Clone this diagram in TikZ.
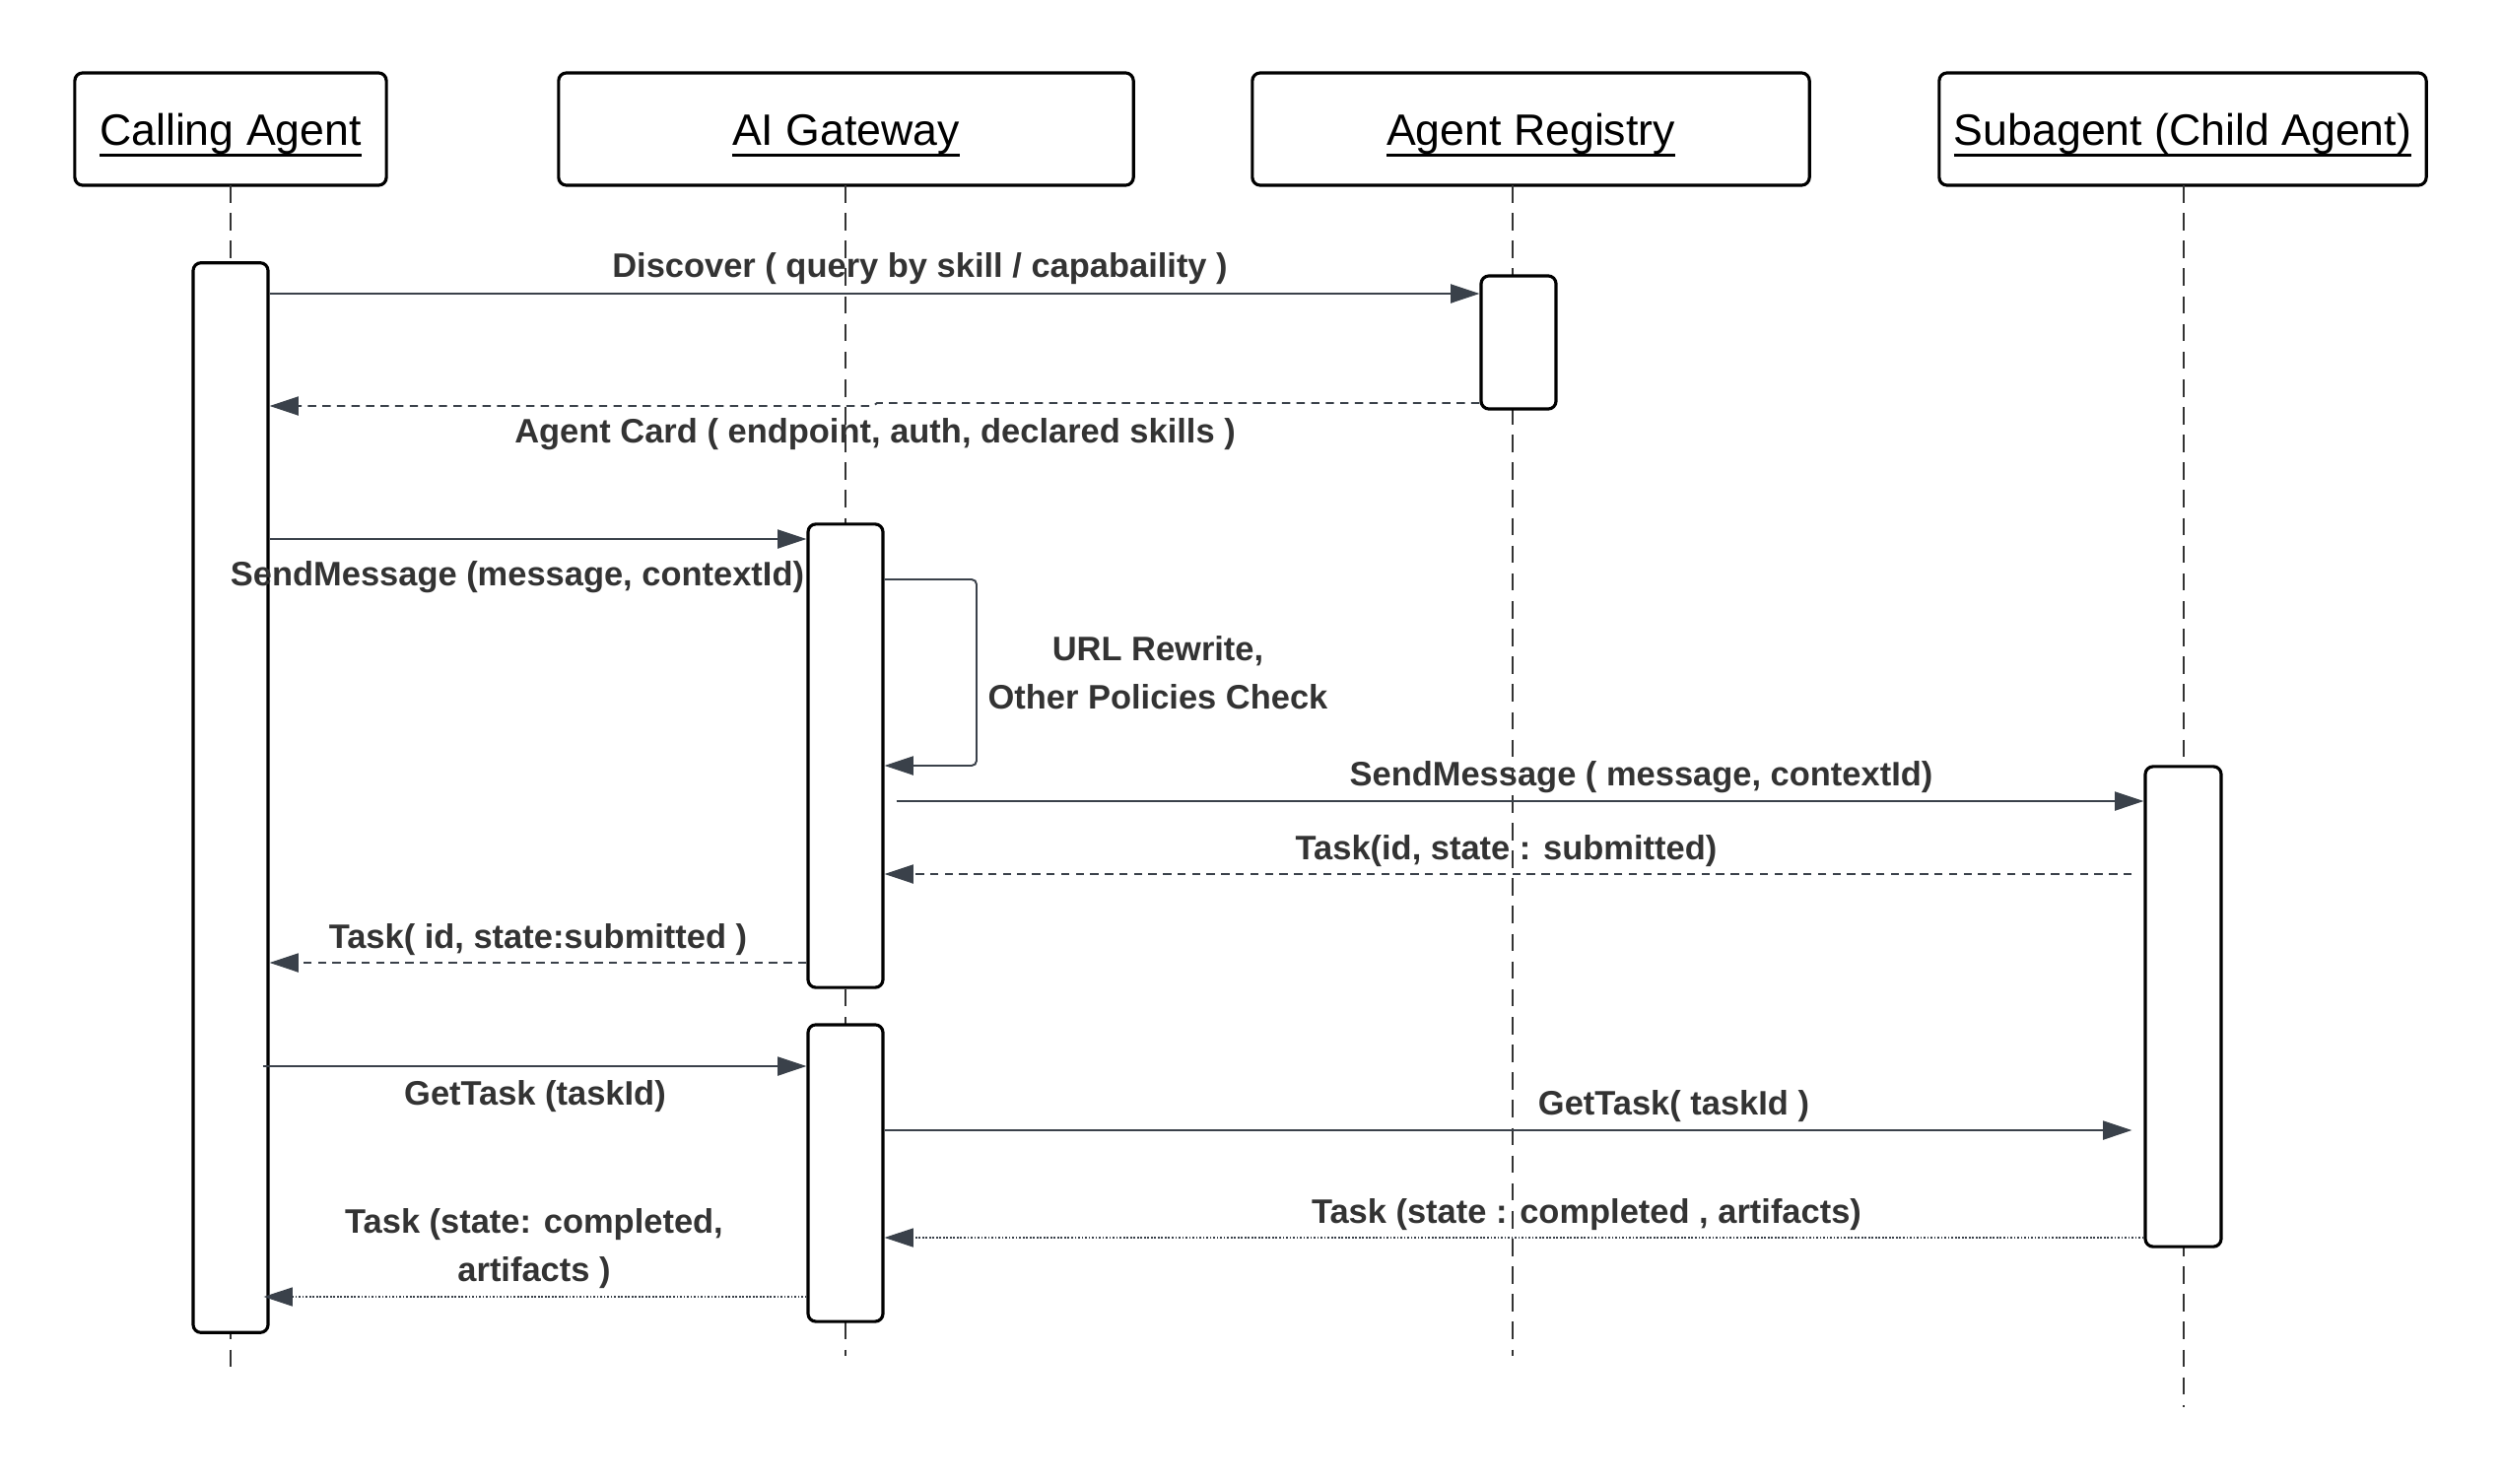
\documentclass[tikz,border=0pt]{standalone}
\usepackage{fontspec}
\setmainfont{Liberation Sans}
\usetikzlibrary{arrows.meta,calc}
\definecolor{ink}{HTML}{3A414A}
\definecolor{txt}{HTML}{333333}
\newcommand{\hdrul}[1]{\setbox0\hbox{#1}\rlap{\rule[-3.3pt]{\wd0}{0.85pt}}\box0}
\tikzset{
 hdr/.style={draw=black, line width=0.9pt, rounded corners=0.08cm, fill=white, minimum height=1.14cm, inner sep=0pt, text height=9.1pt, text depth=0pt, font=\fontsize{12.7}{15}\selectfont},
 act/.style={draw=black, line width=0.9pt, rounded corners=0.08cm, fill=white, minimum width=0.76cm, inner sep=0pt},
 life/.style={draw=black!80, line width=0.4pt, dash pattern=on 5pt off 3pt},
 msg/.style={draw=ink, line width=0.55pt, -{Triangle[length=8.3pt,width=5.4pt]}},
 ret/.style={msg, dash pattern=on 2.4pt off 1.8pt},
 dotmsg/.style={msg, line width=0.4pt, dash pattern=on 0.5pt off 0.5pt},
 lbl/.style={text=txt, font=\fontsize{9.8}{13.7}\selectfont\bfseries, inner sep=0pt, anchor=base, align=center},
}
\begin{document}
\begin{tikzpicture}[x=0.01cm,y=-0.01cm]
\useasboundingbox (0,0) rectangle (2539,1506);
% headers
\node[hdr, minimum width=3.16cm] (ca) at (234,131) {\hdrul{Calling Agent}};
\node[hdr, minimum width=5.83cm] (gw) at (858.5,131) {\hdrul{AI Gateway}};
\node[hdr, minimum width=5.65cm] (reg) at (1553.5,131) {\hdrul{Agent Registry}};
\node[hdr, minimum width=4.94cm] (sub) at (2215,131) {\hdrul{Subagent (Child Agent)}};
% lifelines
\coordinate (caT) at (234,188);  \coordinate (caB) at (234,1388);
\coordinate (gwT) at (858,188);  \coordinate (gwB) at (858,1376);
\coordinate (regT) at (1535,188); \coordinate (regB) at (1535,1376);
\coordinate (subT) at (2216,188); \coordinate (subB) at (2216,1428);
\draw[life] (caT) -- (caB);
\draw[life] (gwT) -- (gwB);
\draw[life] (regT) -- (regB);
\draw[life] (subT) -- (subB);
% activations
\node[act, minimum height=10.85cm] (caA) at (234,809.5) {};
\node[act, minimum height=1.35cm] (regA) at (1541,347.5) {};
\node[act, minimum height=4.70cm] (gwA1) at (858,767) {};
\node[act, minimum height=3.01cm] (gwA2) at (858,1190.5) {};
\node[act, minimum width=0.77cm, minimum height=4.87cm] (subA) at (2215.5,1021.5) {};
% messages
\draw[msg] (caA.east |- 0,298) -- (regA.west |- 0,298);
\draw[ret] (regA.west |- 0,409) -- (890,409) -- (886,412) -- (caA.east |- 0,412);
\draw[msg] (caA.east |- 0,547) -- (gwA1.west |- 0,547);
\draw[msg, rounded corners=0.05cm] (gwA1.east |- 0,588) -- (991,588) -- (991,777) -- (gwA1.east |- 0,777);
\draw[msg] (gwA1.east |- 0,813) ++(12,0) -- (subA.west |- 0,813);
\draw[ret] (subA.west |- 0,887) ++(-12,0) -- (gwA1.east |- 0,887);
\draw[ret] (gwA1.west |- 0,977) -- (caA.east |- 0,977);
\draw[msg] (caA.east |- 0,1082) ++(-7,0) -- (gwA2.west |- 0,1082);
\draw[msg] (gwA2.east |- 0,1147) -- ($(subA.west |- 0,1147)+(-12,0)$);
\draw[dotmsg] (subA.west |- 0,1256) -- (gwA2.east |- 0,1256);
\draw[dotmsg] (gwA2.west |- 0,1316) -- ($(caA.east |- 0,1316)+(-6,0)$);
% labels
\node[lbl] (l1) at (933.5,281) {Discover ( query by skill / capabaility )};
\node[lbl] (l2) at (888,449) {Agent Card ( endpoint, auth, declared skills )};
\node[lbl] (l3) at (525,594) {SendMessage (message, contextId)};
\node[lbl] (l4) at (1175,719) {URL Rewrite,\\Other Policies Check};
\node[lbl] (l5) at (1665.5,797) {SendMessage ( message, contextId)};
\node[lbl] (l6) at (1528.5,872) {Task(id, state : submitted)};
\node[lbl] (l7) at (546,962) {Task( id, state:submitted )};
\node[lbl] (l8) at (543,1121) {GetTask (taskId)};
\node[lbl] (l9) at (1698.5,1131) {GetTask( taskId )};
\node[lbl] (l10) at (1610,1241) {Task (state : completed , artifacts)};
\node[lbl] (l11) at (542,1300) {Task (state: completed,\\artifacts )};
\end{tikzpicture}
\end{document}
